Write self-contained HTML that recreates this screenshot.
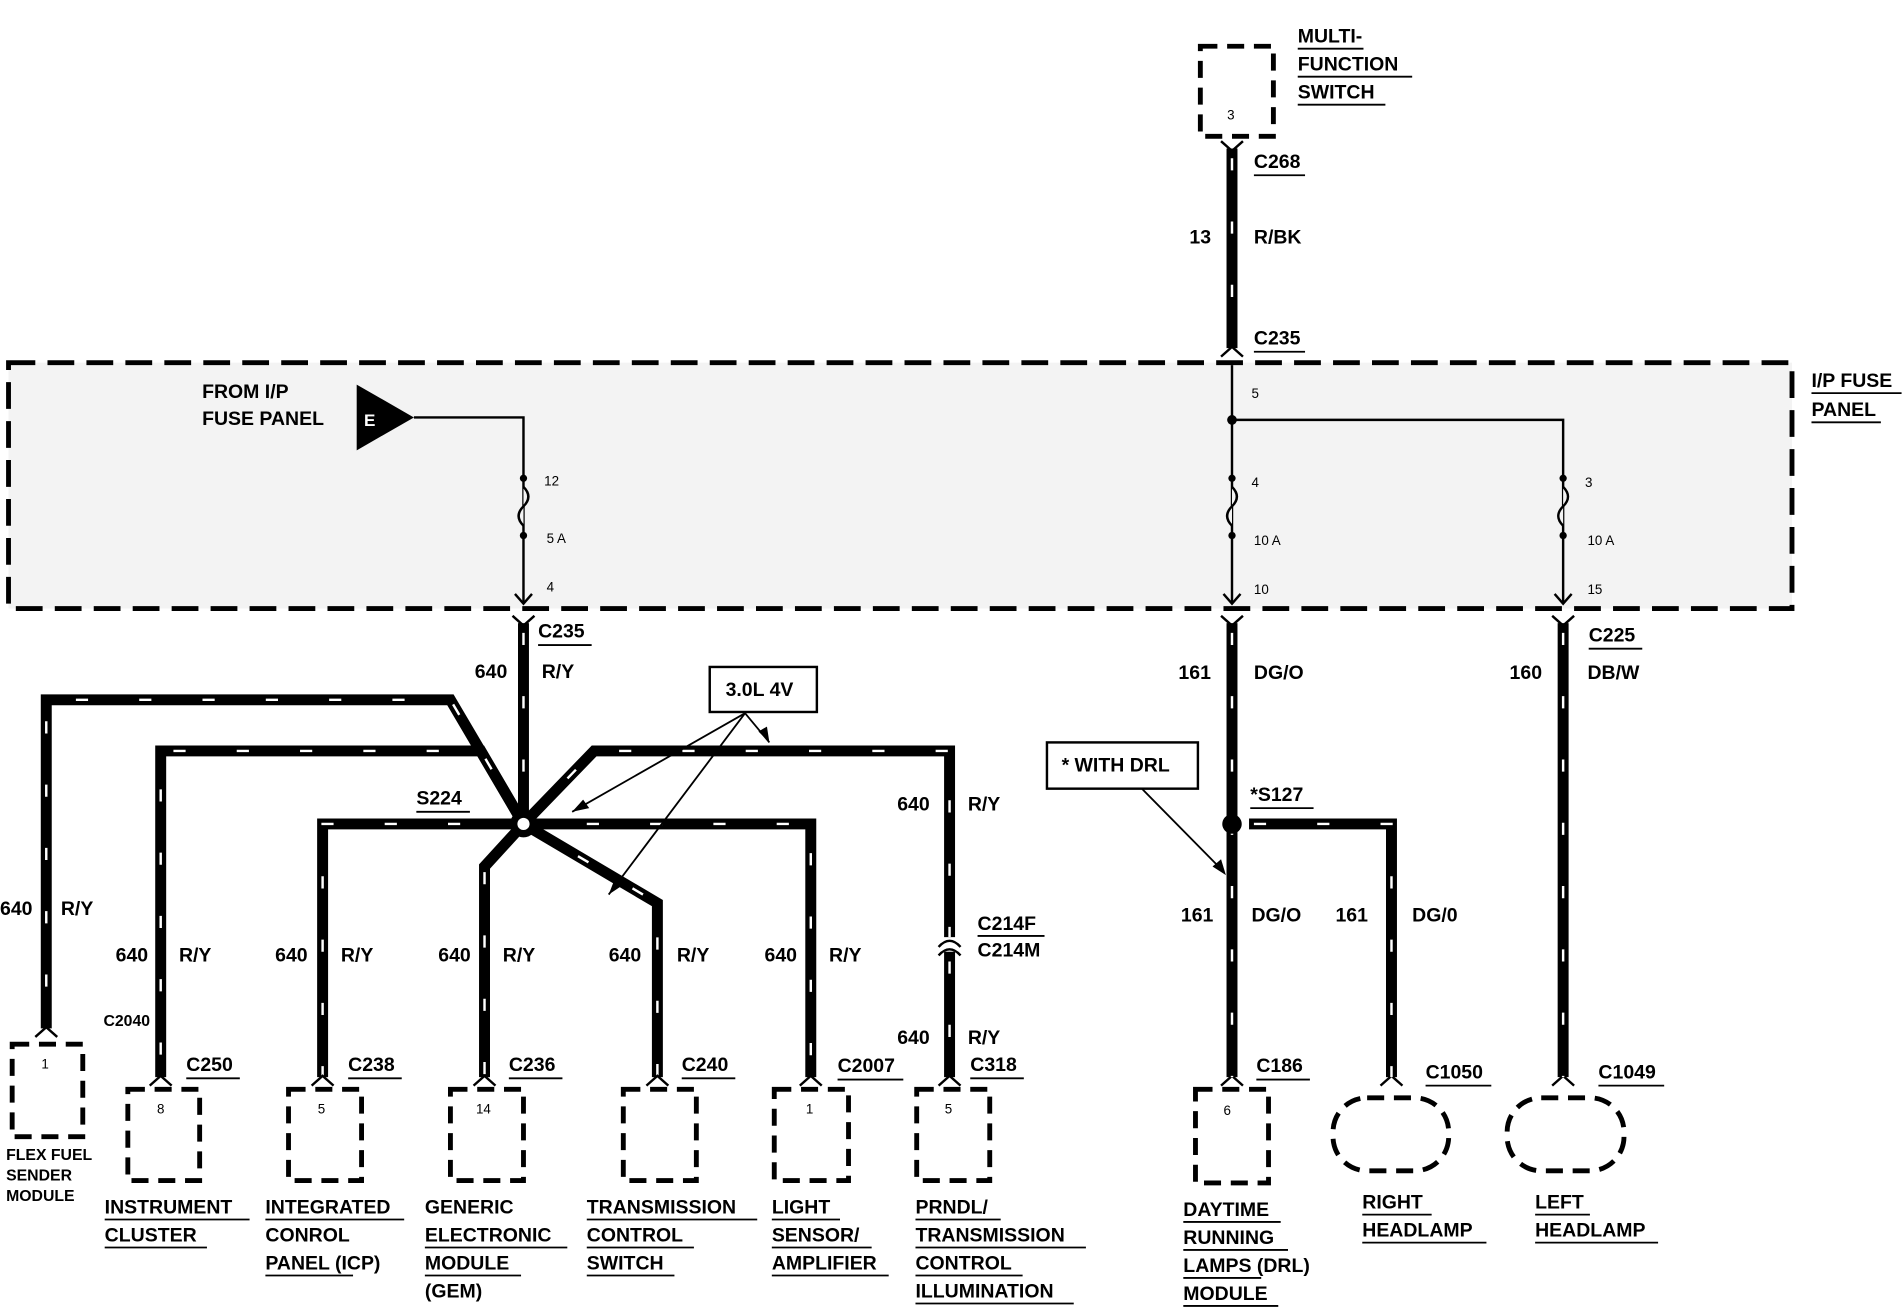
<!DOCTYPE html>
<html><head><meta charset="utf-8"><style>
html,body{margin:0;padding:0;background:#fff;}
svg{display:block;}
text{font-family:"Liberation Sans",Arial,sans-serif;font-weight:bold;fill:#000;}
.l{font-size:16px;}
.s{font-size:11px;font-weight:normal;}
.w{fill:none;stroke:#000;stroke-width:9;stroke-linejoin:miter;}
.d{fill:none;stroke:#fff;stroke-width:2;stroke-dasharray:10 42;}
.t{fill:none;stroke:#000;stroke-width:2;}
.b{fill:#fff;stroke:#000;stroke-width:4;stroke-dasharray:14 8;}
.u{stroke:#000;stroke-width:1.5;}
</style></head><body>
<svg width="1904" height="1312" viewBox="0 0 1564 1078" preserveAspectRatio="none" xmlns="http://www.w3.org/2000/svg">
<rect x="0" y="0" width="1564" height="1078" fill="#fff"/>
<rect x="7" y="298" width="1465" height="202" fill="#f3f3f3" stroke="#000" stroke-width="4" stroke-dasharray="22 10"/>
<text class="l" x="1488" y="318">I/P FUSE</text><line class="u" x1="1488" y1="323" x2="1562" y2="323"/>
<text class="l" x="1488" y="342">PANEL</text><line class="u" x1="1488" y1="347" x2="1545" y2="347"/>
<rect class="b" x="986" y="38" width="60" height="74"/>
<text class="s" x="1008" y="98">3</text>
<text class="l" x="1066" y="35">MULTI-</text><line class="u" x1="1066" y1="40" x2="1120" y2="40"/>
<text class="l" x="1066" y="58">FUNCTION</text><line class="u" x1="1066" y1="63" x2="1160" y2="63"/>
<text class="l" x="1066" y="81">SWITCH</text><line class="u" x1="1066" y1="86" x2="1138" y2="86"/>
<path class="w" d="M1012 122 V286"/><path class="d" d="M1012 130 V286"/>
<path class="t" d="M1003 116 L1012 124 L1021 116 M1003 293 L1012 285 L1021 293"/>
<text class="l" x="1030" y="138">C268</text><line class="u" x1="1030" y1="144" x2="1072" y2="144"/>
<text class="l" x="977" y="200">13</text><text class="l" x="1030" y="200">R/BK</text>
<text class="l" x="1030" y="283">C235</text><line class="u" x1="1030" y1="289" x2="1072" y2="289"/>
<path class="t" d="M1012 300 V495 M1012 345 H1284 V495"/>
<circle cx="1012" cy="345" r="4"/>
<circle cx="1012" cy="393" r="3"/><circle cx="1012" cy="440" r="3"/>
<circle cx="1284" cy="393" r="3"/><circle cx="1284" cy="440" r="3"/>
<path d="M1012 400 q8 8 0 16 q-8 8 0 16" fill="#f3f3f3" stroke="#000" stroke-width="2"/>
<path d="M1284 400 q8 8 0 16 q-8 8 0 16" fill="#f3f3f3" stroke="#000" stroke-width="2"/>
<path class="t" d="M1005 488 L1012 496 L1019 488 M1277 488 L1284 496 L1291 488"/>
<text class="s" x="1028" y="327">5</text><text class="s" x="1028" y="400">4</text>
<text class="s" x="1030" y="448">10 A</text><text class="s" x="1030" y="488">10</text>
<text class="s" x="1302" y="400">3</text><text class="s" x="1304" y="448">10 A</text><text class="s" x="1304" y="488">15</text>
<path d="M293 316 L340 343 L293 370 Z" fill="#000"/>
<text x="299" y="350" style="font-size:14px;fill:#fff">E</text>
<path class="t" d="M340 343 H430 V495"/>
<circle cx="430" cy="393" r="3"/><circle cx="430" cy="440" r="3"/>
<path d="M430 400 q8 8 0 16 q-8 8 0 16" fill="#f3f3f3" stroke="#000" stroke-width="2"/>
<path class="t" d="M423 488 L430 496 L437 488"/>
<text class="s" x="447" y="399">12</text><text class="s" x="449" y="446">5 A</text><text class="s" x="449" y="486">4</text>
<text class="l" x="166" y="327">FROM I/P</text><text class="l" x="166" y="349">FUSE PANEL</text>
<path class="w" d="M430 512 V677"/><path class="d" d="M430 520 V677"/>
<path class="t" d="M421 506 L430 514 L439 506"/>
<text class="l" x="442" y="524">C235</text><line class="u" x1="442" y1="530" x2="486" y2="530"/>
<text class="l" x="390" y="557">640</text><text class="l" x="445" y="557">R/Y</text>
<g>
<path class="w" d="M430 677 L370 575 H38 V845"/><path class="d" d="M430 677 L370 575 H38 V845"/>
<path class="w" d="M430 677 L395 617 H132 V885"/><path class="d" d="M430 677 L395 617 H132 V885"/>
<path class="w" d="M430 677 H265 V885"/><path class="d" d="M430 677 H265 V885"/>
<path class="w" d="M430 677 L398 712 V885"/><path class="d" d="M430 677 L398 712 V885"/>
<path class="w" d="M430 677 L540 742 V885"/><path class="d" d="M430 677 L540 742 V885"/>
<path class="w" d="M430 677 H666 V885"/><path class="d" d="M430 677 H666 V885"/>
<path class="w" d="M430 677 L488 617 H780 V770"/><path class="d" d="M430 677 L488 617 H780 V770"/>
<path class="w" d="M780 782 V885"/><path class="d" d="M780 790 V885"/>
</g>
<path class="t" d="M771 778 Q780 768 789 778 M771 785 Q780 775 789 785"/>
<circle cx="430" cy="677" r="11" fill="#000"/><circle cx="430" cy="677" r="5" fill="#fff"/>
<text class="l" x="342" y="661">S224</text><line class="u" x1="342" y1="667" x2="386" y2="667"/>
<rect x="583" y="548" width="88" height="37" fill="#fff" stroke="#000" stroke-width="2"/>
<text class="l" x="596" y="572">3.0L 4V</text>
<path class="t" style="stroke-width:1.5" d="M612 586 L470 667 M612 586 L500 735 M612 586 L632 610"/>
<path d="M470 667 l14 -3 l-5 -7 Z M500 735 l12 -8 l-7 -5 Z M632 610 l-2 -13 l-7 4 Z"/>
<text class="l" x="0" y="752">640</text><text class="l" x="50" y="752">R/Y</text>
<text class="l" x="95" y="790">640</text><text class="l" x="147" y="790">R/Y</text>
<text class="l" x="226" y="790">640</text><text class="l" x="280" y="790">R/Y</text>
<text class="l" x="360" y="790">640</text><text class="l" x="413" y="790">R/Y</text>
<text class="l" x="500" y="790">640</text><text class="l" x="556" y="790">R/Y</text>
<text class="l" x="628" y="790">640</text><text class="l" x="681" y="790">R/Y</text>
<text class="l" x="737" y="666">640</text><text class="l" x="795" y="666">R/Y</text>
<text class="l" x="803" y="764">C214F</text><text class="l" x="803" y="786">C214M</text><line class="u" x1="803" y1="769" x2="858" y2="769"/>
<text class="l" x="737" y="858">640</text><text class="l" x="795" y="858">R/Y</text>
<path class="t" d="M29 852 L38 844 L47 852 M123 892 L132 884 L141 892 M256 892 L265 884 L274 892 M389 892 L398 884 L407 892 M531 892 L540 884 L549 892 M657 892 L666 884 L675 892 M771 892 L780 884 L789 892 M1003 892 L1012 884 L1021 892 M1134 892 L1143 884 L1152 892 M1275 892 L1284 884 L1293 892"/>
<text x="85" y="843" style="font-size:13px">C2040</text>
<text class="l" x="153" y="880">C250</text><line class="u" x1="153" y1="886" x2="197" y2="886"/>
<text class="l" x="286" y="880">C238</text><line class="u" x1="286" y1="886" x2="330" y2="886"/>
<text class="l" x="418" y="880">C236</text><line class="u" x1="418" y1="886" x2="462" y2="886"/>
<text class="l" x="560" y="880">C240</text><line class="u" x1="560" y1="886" x2="604" y2="886"/>
<text class="l" x="688" y="881">C2007</text><line class="u" x1="688" y1="887" x2="742" y2="887"/>
<text class="l" x="797" y="880">C318</text><line class="u" x1="797" y1="886" x2="841" y2="886"/>
<rect class="b" x="10" y="858" width="58" height="76"/><text class="s" x="34" y="878">1</text>
<rect class="b" x="105" y="895" width="59" height="75"/><text class="s" x="129" y="915">8</text>
<rect class="b" x="237" y="895" width="60" height="75"/><text class="s" x="261" y="915">5</text>
<rect class="b" x="370" y="895" width="60" height="75"/><text class="s" x="391" y="915">14</text>
<rect class="b" x="512" y="895" width="60" height="75"/>
<rect class="b" x="636" y="895" width="61" height="75"/><text class="s" x="662" y="915">1</text>
<rect class="b" x="753" y="895" width="60" height="75"/><text class="s" x="776" y="915">5</text>
<text x="5" y="953" style="font-size:13px">FLEX FUEL</text><text x="5" y="970" style="font-size:13px">SENDER</text><text x="5" y="987" style="font-size:13px">MODULE</text>
<text class="l" x="86" y="997">INSTRUMENT</text><line class="u" x1="86" y1="1002" x2="205" y2="1002"/>
<text class="l" x="86" y="1020">CLUSTER</text><line class="u" x1="86" y1="1025" x2="170" y2="1025"/>
<text class="l" x="218" y="997">INTEGRATED</text><line class="u" x1="218" y1="1002" x2="332" y2="1002"/>
<text class="l" x="218" y="1020">CONROL</text>
<text class="l" x="218" y="1043">PANEL (ICP)</text><line class="u" x1="218" y1="1048" x2="290" y2="1048"/>
<text class="l" x="349" y="997">GENERIC</text>
<text class="l" x="349" y="1020">ELECTRONIC</text><line class="u" x1="349" y1="1025" x2="466" y2="1025"/>
<text class="l" x="349" y="1043">MODULE</text><line class="u" x1="349" y1="1048" x2="428" y2="1048"/>
<text class="l" x="349" y="1066">(GEM)</text>
<text class="l" x="482" y="997">TRANSMISSION</text><line class="u" x1="482" y1="1002" x2="622" y2="1002"/>
<text class="l" x="482" y="1020">CONTROL</text><line class="u" x1="482" y1="1025" x2="570" y2="1025"/>
<text class="l" x="482" y="1043">SWITCH</text><line class="u" x1="482" y1="1048" x2="554" y2="1048"/>
<text class="l" x="634" y="997">LIGHT</text><line class="u" x1="634" y1="1002" x2="690" y2="1002"/>
<text class="l" x="634" y="1020">SENSOR/</text><line class="u" x1="634" y1="1025" x2="716" y2="1025"/>
<text class="l" x="634" y="1043">AMPLIFIER</text><line class="u" x1="634" y1="1048" x2="730" y2="1048"/>
<text class="l" x="752" y="997">PRNDL/</text><line class="u" x1="752" y1="1002" x2="822" y2="1002"/>
<text class="l" x="752" y="1020">TRANSMISSION</text><line class="u" x1="752" y1="1025" x2="892" y2="1025"/>
<text class="l" x="752" y="1043">CONTROL</text><line class="u" x1="752" y1="1048" x2="840" y2="1048"/>
<text class="l" x="752" y="1066">ILLUMINATION</text><line class="u" x1="752" y1="1071" x2="882" y2="1071"/>
<path class="w" d="M1012 512 V885"/><path class="d" d="M1012 520 V885"/>
<path class="t" d="M1003 506 L1012 514 L1021 506 M1275 506 L1284 514 L1293 506"/>
<path class="w" d="M1284 512 V885"/><path class="d" d="M1284 520 V885"/>
<path class="w" d="M1026 677 H1143 V885"/><path class="d" d="M1030 677 H1143 V885"/>
<circle cx="1012" cy="677" r="8" fill="#000"/>
<text class="l" x="1305" y="527">C225</text><line class="u" x1="1305" y1="533" x2="1349" y2="533"/>
<text class="l" x="968" y="558">161</text><text class="l" x="1030" y="558">DG/O</text>
<text class="l" x="1240" y="558">160</text><text class="l" x="1304" y="558">DB/W</text>
<text class="l" x="1027" y="658">*S127</text><line class="u" x1="1027" y1="664" x2="1079" y2="664"/>
<text class="l" x="970" y="757">161</text><text class="l" x="1028" y="757">DG/O</text>
<text class="l" x="1097" y="757">161</text><text class="l" x="1160" y="757">DG/0</text>
<rect x="860" y="610" width="124" height="38" fill="#fff" stroke="#000" stroke-width="2"/>
<text class="l" x="872" y="634">* WITH DRL</text>
<path class="t" style="stroke-width:1.5" d="M938 648 L1003 714"/><path d="M1007 719 l-4 -13 l-7 6 Z"/>
<text class="l" x="1032" y="881">C186</text><line class="u" x1="1032" y1="887" x2="1076" y2="887"/>
<text class="l" x="1171" y="886">C1050</text><line class="u" x1="1171" y1="892" x2="1225" y2="892"/>
<text class="l" x="1313" y="886">C1049</text><line class="u" x1="1313" y1="892" x2="1367" y2="892"/>
<rect class="b" x="982" y="895" width="60" height="77"/><text class="s" x="1005" y="916">6</text>
<rect class="b" x="1095" y="902" width="95" height="60" rx="28"/>
<rect class="b" x="1238" y="902" width="96" height="60" rx="28"/>
<text class="l" x="972" y="999">DAYTIME</text><line class="u" x1="972" y1="1004" x2="1052" y2="1004"/>
<text class="l" x="972" y="1022">RUNNING</text><line class="u" x1="972" y1="1027" x2="1058" y2="1027"/>
<text class="l" x="972" y="1045">LAMPS (DRL)</text><line class="u" x1="972" y1="1050" x2="1036" y2="1050"/>
<text class="l" x="972" y="1068">MODULE</text><line class="u" x1="972" y1="1073" x2="1050" y2="1073"/>
<text class="l" x="1119" y="993">RIGHT</text><line class="u" x1="1119" y1="998" x2="1176" y2="998"/>
<text class="l" x="1119" y="1016">HEADLAMP</text><line class="u" x1="1119" y1="1021" x2="1221" y2="1021"/>
<text class="l" x="1261" y="993">LEFT</text><line class="u" x1="1261" y1="998" x2="1306" y2="998"/>
<text class="l" x="1261" y="1016">HEADLAMP</text><line class="u" x1="1261" y1="1021" x2="1362" y2="1021"/>
</svg>
</body></html>
